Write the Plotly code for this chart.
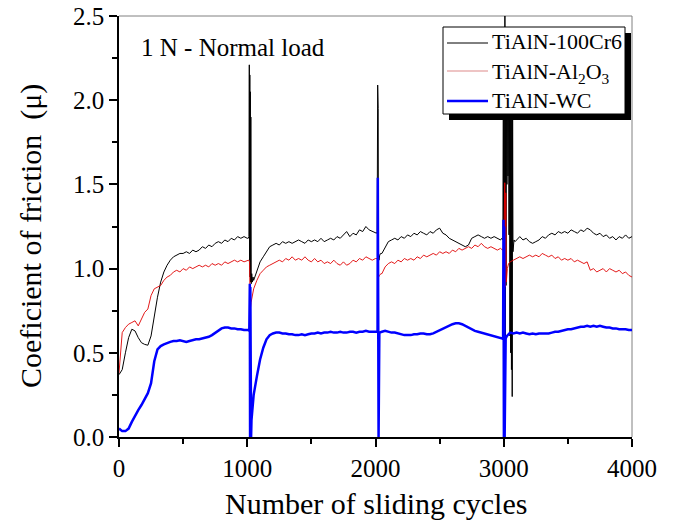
import plotly.graph_objects as go

# ---- data ----
cycles = list(range(0, 4001, 25))

cr6_base = [
    0.37, 0.40, 0.50, 0.59, 0.64, 0.63, 0.59, 0.56, 0.55, 0.545,
    0.60, 0.72, 0.83, 0.92, 0.98, 1.02, 1.05, 1.07, 1.08, 1.09,
    1.09, 1.10, 1.09, 1.11, 1.10, 1.11, 1.13, 1.12, 1.14, 1.13,
    1.15, 1.16, 1.15, 1.17, 1.16, 1.18, 1.17, 1.19, 1.18, 1.19,
    1.18, 1.18, 0.93, 0.99, 1.04, 1.07, 1.10, 1.13, 1.14, 1.15,
    1.14, 1.16, 1.15, 1.16, 1.15, 1.16, 1.17, 1.16, 1.15, 1.17,
    1.16, 1.17, 1.16, 1.18, 1.16, 1.17, 1.18, 1.17, 1.19, 1.18,
    1.20, 1.22, 1.19, 1.21, 1.20, 1.23, 1.22, 1.25, 1.23, 1.22,
    1.21, 1.21, 1.09, 1.13, 1.16, 1.17, 1.18, 1.17, 1.19, 1.18,
    1.20, 1.19, 1.21, 1.20, 1.22, 1.21, 1.20, 1.22, 1.21, 1.23,
    1.24, 1.21, 1.20, 1.18, 1.17, 1.16, 1.15, 1.14, 1.13, 1.14,
    1.18, 1.19, 1.20, 1.19, 1.18, 1.19, 1.18, 1.19, 1.18, 1.17,
    1.18, 1.18, 1.18, 1.17, 1.17, 1.19, 1.17, 1.18, 1.16, 1.15,
    1.16, 1.17, 1.19, 1.18, 1.20, 1.21, 1.20, 1.22, 1.21, 1.22,
    1.21, 1.23, 1.22, 1.21, 1.23, 1.22, 1.24, 1.23, 1.21, 1.20,
    1.21, 1.19, 1.20, 1.18, 1.19, 1.17, 1.19, 1.18, 1.20, 1.18,
    1.19,
]
cr6_spike_x = [1008, 1013, 1016, 1018, 1020, 1022, 1024, 1026, 1028, 1031, 1035, 1040, 1045,
               2008, 2013, 2017, 2019, 2021, 2023, 2027, 2033, 2040,
               2985, 2993, 2997, 3000, 3003, 3006, 3009, 3012, 3015, 3018, 3021, 3025, 3029,
               3033, 3037, 3041, 3045, 3048, 3051, 3054, 3057, 3060, 3063, 3066, 3069, 3072,
               3080, 3088]
cr6_spike_y = [1.18, 1.19, 2.21, 1.05, 2.15, 0.95, 2.05, 0.92, 1.90, 0.91, 0.97, 0.92, 0.95,
               1.21, 1.22, 2.09, 1.40, 1.95, 1.10, 1.05, 1.08, 1.09,
               1.18, 1.17, 2.10, 0.02, 2.10, 0.05, 2.55, 0.20, 2.10, 0.90, 2.10, 1.50, 2.10,
               1.55, 2.10, 1.20, 2.10, 0.60, 2.10, 0.50, 2.10, 0.40, 2.10, 0.24, 2.00, 1.10,
               1.17, 1.16]
cr6_windows = [(1003, 1047), (2003, 2047), (2980, 3095)]

al2o3_base = [
    0.38, 0.62, 0.65, 0.67, 0.68, 0.69, 0.66, 0.70, 0.74, 0.76,
    0.84, 0.88, 0.89, 0.90, 0.93, 0.95, 0.96, 0.98, 0.99, 0.98,
    1.00, 0.99, 1.01, 1.00, 1.01, 1.02, 1.01, 1.02, 1.01, 1.03,
    1.02, 1.03, 1.02, 1.04, 1.03, 1.04, 1.05, 1.04, 1.05, 1.04,
    1.05, 1.05, 0.88, 0.93, 0.97, 0.99, 1.01, 1.02, 1.03, 1.04,
    1.05, 1.04, 1.06, 1.05, 1.07, 1.05, 1.06, 1.05, 1.07, 1.05,
    1.04, 1.06, 1.04, 1.05, 1.03, 1.04, 1.03, 1.05, 1.03, 1.02,
    1.04, 1.02, 1.03, 1.05, 1.04, 1.06, 1.05, 1.07, 1.06, 1.05,
    1.06, 1.06, 0.97, 1.01, 1.03, 1.04, 1.03, 1.05, 1.04, 1.06,
    1.05, 1.06, 1.05, 1.07, 1.06, 1.08, 1.07, 1.08, 1.09, 1.08,
    1.10, 1.09, 1.10, 1.09, 1.11, 1.10, 1.12, 1.11, 1.12, 1.13,
    1.12, 1.14, 1.13, 1.15, 1.13, 1.12, 1.13, 1.12, 1.11, 1.12,
    1.11, 1.00, 1.04, 1.05, 1.06, 1.07, 1.06, 1.07, 1.08, 1.07,
    1.08, 1.07, 1.09, 1.08, 1.07, 1.08, 1.06, 1.07, 1.05, 1.06,
    1.05, 1.06, 1.04, 1.05, 1.04, 1.03, 1.04, 0.99, 1.00, 0.98,
    0.99, 1.00, 0.98, 1.00, 0.99, 0.98, 0.99, 0.97, 0.98, 0.96,
    0.95,
]
al2o3_spike_x = [1010, 1018, 1023, 1030, 1040,
                 2010, 2018, 2024, 2032, 2042,
                 2990, 3000, 3008, 3012, 3016, 3020, 3028, 3038]
al2o3_spike_y = [1.05, 1.04, 0.75, 0.80, 0.85,
                 1.06, 1.05, 0.95, 0.96, 0.97,
                 1.11, 1.12, 1.51, 0.89, 1.45, 0.92, 1.00, 1.03]
al2o3_windows = [(1003, 1047), (2003, 2047), (2985, 3045)]

wc_base = [
    0.05, 0.035, 0.035, 0.05, 0.09, 0.13, 0.16, 0.19, 0.23, 0.26,
    0.32, 0.45, 0.52, 0.54, 0.55, 0.56, 0.565, 0.57, 0.57, 0.575,
    0.57, 0.565, 0.57, 0.575, 0.58, 0.58, 0.585, 0.59, 0.595, 0.605,
    0.62, 0.635, 0.645, 0.65, 0.65, 0.645, 0.645, 0.64, 0.64, 0.635,
    0.635, 0.60, 0.25, 0.36, 0.46, 0.53, 0.58, 0.605, 0.615, 0.62,
    0.62, 0.615, 0.615, 0.61, 0.61, 0.605, 0.605, 0.61, 0.605, 0.61,
    0.615, 0.615, 0.62, 0.615, 0.62, 0.62, 0.625, 0.62, 0.62, 0.625,
    0.62, 0.62, 0.625, 0.625, 0.62, 0.625, 0.625, 0.63, 0.625, 0.625,
    0.625, 0.625, 0.625, 0.63, 0.625, 0.62, 0.62, 0.615, 0.61, 0.605,
    0.605, 0.605, 0.61, 0.61, 0.615, 0.615, 0.61, 0.61, 0.615, 0.625,
    0.635, 0.645, 0.655, 0.665, 0.67, 0.675, 0.675, 0.67, 0.66, 0.645,
    0.635, 0.63, 0.625, 0.62, 0.615, 0.61, 0.605, 0.60, 0.595, 0.59,
    0.58, 0.60, 0.62, 0.615, 0.62, 0.615, 0.62, 0.615, 0.61, 0.615,
    0.61, 0.615, 0.615, 0.615, 0.615, 0.62, 0.625, 0.625, 0.63, 0.635,
    0.64, 0.64, 0.645, 0.65, 0.655, 0.655, 0.66, 0.655, 0.66, 0.655,
    0.66, 0.655, 0.65, 0.65, 0.645, 0.645, 0.64, 0.64, 0.64, 0.635,
    0.635,
]
wc_spike_x = [1010, 1016, 1018, 1020, 1022, 1024, 1026, 1028, 1030, 1033, 1040,
              2010, 2016, 2018, 2020, 2022, 2024, 2030, 2040,
              2990, 2995, 2998, 3001, 3004, 3007, 3010, 3015, 3025, 3035]
wc_spike_y = [0.635, 0.63, 0.0, 0.91, 0.0, 0.89, 0.0, 0.85, 0.0, 0.10, 0.18,
              0.625, 0.625, 1.54, 0.0, 1.50, 0.0, 0.62, 0.625,
              0.585, 0.58, 1.29, 0.0, 1.25, 0.0, 0.57, 0.585, 0.60, 0.61]
wc_windows = [(1003, 1047), (2003, 2047), (2985, 3045)]

series_names = ["TiAlN-100Cr6", "TiAlN-Al<sub>2</sub>O<sub>3</sub>", "TiAlN-WC"]
x_ticks = [0, 1000, 2000, 3000, 4000]
y_ticks = [0.0, 0.5, 1.0, 1.5, 2.0, 2.5]


def merge(base_y, sx, sy, windows):
    pts = [(x, y) for x, y in zip(cycles, base_y)
           if not any(a < x < b for a, b in windows)]
    pts += list(zip(sx, sy))
    pts.sort()
    return [p[0] for p in pts], [p[1] for p in pts]


FONT = "Liberation Serif, Times New Roman, serif"

# plot-area pixel frame (for placing the legend box and texts in paper units)
PX_L, PX_R, PX_T, PX_B = 119, 632, 16, 437


def px(xp):
    return (xp - PX_L) / (PX_R - PX_L)


def py(yp):
    return (PX_B - yp) / (PX_B - PX_T)


fig = go.Figure()
specs = [
    (cr6_base, cr6_spike_x, cr6_spike_y, cr6_windows, "#000000", 1.0, "#000000", 1.0),
    (al2o3_base, al2o3_spike_x, al2o3_spike_y, al2o3_windows, "#e00000", 0.9, "#e8b0b0", 1.5),
    (wc_base, wc_spike_x, wc_spike_y, wc_windows, "#0000ff", 2.5, "#0000ff", 2.5),
]
for name, (b, sx, sy, w, col, lw, _, _) in zip(series_names, specs):
    xs, ys = merge(b, sx, sy, w)
    fig.add_trace(go.Scatter(x=xs, y=ys, mode="lines", name=name,
                             line=dict(color=col, width=lw), showlegend=False))

# grey top / right frame
fig.add_shape(type="line", xref="paper", yref="paper", x0=0, x1=1, y0=1, y1=1,
              line=dict(color="#808080", width=1), layer="below")
fig.add_shape(type="line", xref="paper", yref="paper", x0=1, x1=1, y0=0, y1=1,
              line=dict(color="#808080", width=1), layer="below")

# legend box with drop shadow
fig.add_shape(type="rect", xref="paper", yref="paper",
              x0=px(449), x1=px(631), y0=py(120), y1=py(33),
              fillcolor="black", line=dict(width=0), layer="above")
fig.add_shape(type="rect", xref="paper", yref="paper",
              x0=px(443), x1=px(625), y0=py(114), y1=py(27),
              fillcolor="white", line=dict(color="black", width=1), layer="above")
row_y = [43, 71, 101]
for name, ry, (_, _, _, _, _, _, lcol, llw) in zip(series_names, row_y, specs):
    fig.add_shape(type="line", xref="paper", yref="paper",
                  x0=px(447), x1=px(488), y0=py(ry), y1=py(ry),
                  line=dict(color=lcol, width=llw), layer="above")
    fig.add_annotation(text=name, xref="paper", yref="paper",
                       x=px(490), y=py(ry - 1 + (3 if "sub" in name else 0)),
                       xanchor="left", yanchor="middle", showarrow=False,
                       font=dict(family=FONT, size=22, color="black"))

fig.add_annotation(text="1 N - Normal load", xref="paper", yref="paper",
                   x=px(139), y=py(47), xanchor="left", yanchor="middle",
                   showarrow=False, font=dict(family=FONT, size=25, color="black"))
fig.add_annotation(text="Number of sliding cycles", xref="paper", yref="paper",
                   x=0.5, y=py(503), xanchor="center", yanchor="middle",
                   showarrow=False, font=dict(family=FONT, size=30, color="black"))
fig.add_annotation(text="Coeficient of friction \u00a0(\u03bc)", xref="paper", yref="paper",
                   x=px(31), y=py(236), xanchor="center", yanchor="middle", textangle=-90,
                   showarrow=False, font=dict(family=FONT, size=30, color="black"))

fig.update_layout(
    width=682, height=527,
    margin=dict(l=119, r=50, t=16, b=90, autoexpand=False),
    paper_bgcolor="white", plot_bgcolor="white",
    font=dict(family=FONT, size=25, color="black"),
    showlegend=False,
    xaxis=dict(range=[0, 4000], tickvals=x_ticks, tickformat="d", automargin=False,
               showline=True, linecolor="black", linewidth=1.5,
               ticks="outside", ticklen=8, tickwidth=1.5, tickcolor="black",
               minor=dict(dtick=500, ticks="outside", ticklen=5, tickwidth=1.5,
                          tickcolor="black"),
               showgrid=False, zeroline=False,
               tickfont=dict(family=FONT, size=25, color="black")),
    yaxis=dict(range=[0, 2.5], tickvals=y_ticks, tickformat=".1f", automargin=False,
               showline=True, linecolor="black", linewidth=1.5,
               ticks="outside", ticklen=8, tickwidth=1.5, tickcolor="black",
               minor=dict(dtick=0.25, ticks="outside", ticklen=5, tickwidth=1.5,
                          tickcolor="black"),
               showgrid=False, zeroline=False,
               tickfont=dict(family=FONT, size=25, color="black")),
)

fig.write_html("out.html")
